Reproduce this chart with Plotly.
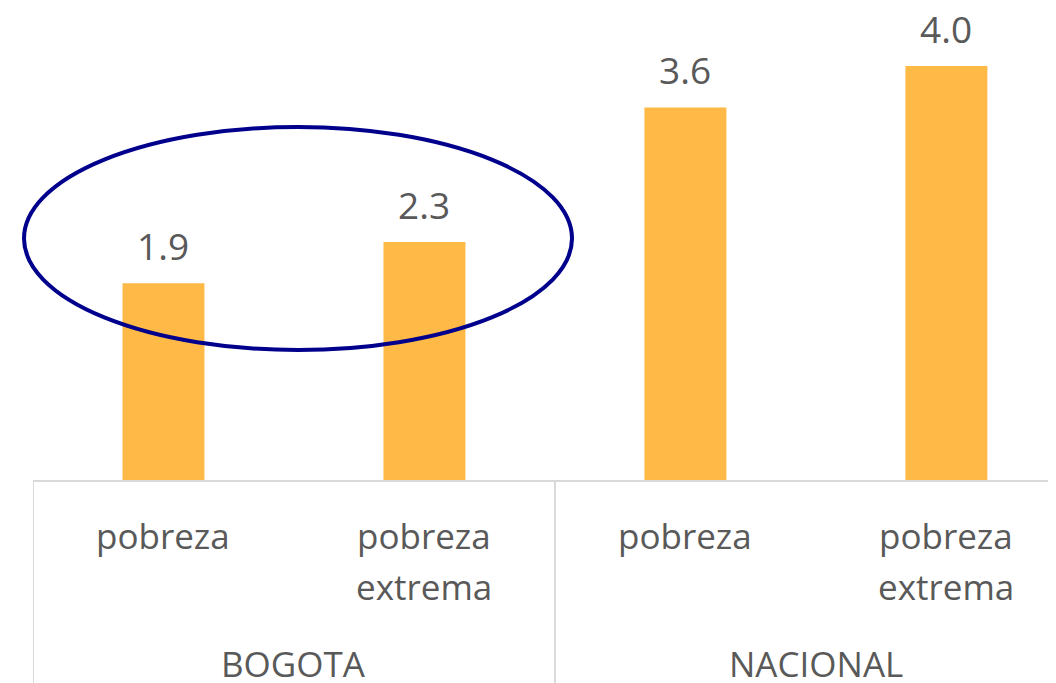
import plotly.graph_objects as go

groups = ["BOGOTA", "BOGOTA", "NACIONAL", "NACIONAL"]
subcats = [["pobreza"], ["pobreza", "extrema"], ["pobreza"], ["pobreza", "extrema"]]
values = [1.9, 2.3, 3.6, 4.0]
group_names = ["BOGOTA", "NACIONAL"]

cats = [g + " " + " ".join(s) for g, s in zip(groups, subcats)]

BAR = "#FFB946"
TXT = "#595959"
GRID = "#D9D9D9"
FONT = "Open Sans"

fig = go.Figure(go.Bar(x=cats, y=values, marker=dict(color=BAR, line=dict(width=0)),
                       hoverinfo="skip"))

ann = []
for c, v in zip(cats, values):
    ann.append(dict(x=c, y=v, xref="x", yref="y", text=f"{v:.1f}", showarrow=False,
                    yanchor="bottom", yshift=11, borderpad=0,
                    font=dict(family=FONT, size=37, color=TXT)))
for c, lines in zip(cats, subcats):
    for i, ln in enumerate(lines):
        ann.append(dict(x=c, y=0, xref="x", yref="paper", text=ln, showarrow=False,
                        yanchor="middle", yshift=-55 - 51 * i,
                        font=dict(family=FONT, size=35, color=TXT)))
for gi, g in enumerate(group_names):
    ann.append(dict(x=0.5 + 2 * gi, y=0, xref="x", yref="paper", text=g, showarrow=False,
                    yanchor="middle", yshift=-183,
                    font=dict(family=FONT, size=35, color=TXT)))

PH = 472.0  # plot-area height in px
shapes = []
for xv in [-0.5, 1.5, 3.5]:
    shapes.append(dict(type="line", xref="x", yref="paper", x0=xv, x1=xv, y0=0, y1=-0.45,
                       line=dict(color=GRID, width=2)))
shapes.append(dict(type="circle", xref="paper", yref="paper",
                   x0=(24 - 33) / 1023, x1=(572 - 33) / 1023,
                   y0=(480 - 350) / PH, y1=(480 - 127) / PH,
                   line=dict(color="#00008C", width=4)))

fig.update_layout(
    width=1048, height=675,
    margin=dict(l=25, r=0, t=0, b=203),
    paper_bgcolor="white", plot_bgcolor="white",
    bargap=0.686,
    showlegend=False,
    annotations=ann, shapes=shapes,
    xaxis=dict(type="category", categoryorder="array", categoryarray=cats,
               range=[-0.5, 3.42], showticklabels=False, ticks="",
               showline=True, linecolor=GRID, linewidth=2, showgrid=False, zeroline=False,
               fixedrange=True),
    yaxis=dict(range=[0, PH / 103.5], visible=False, showgrid=False, zeroline=False,
               fixedrange=True),
)

fig.write_html("out.html", config={"displayModeBar": False})
